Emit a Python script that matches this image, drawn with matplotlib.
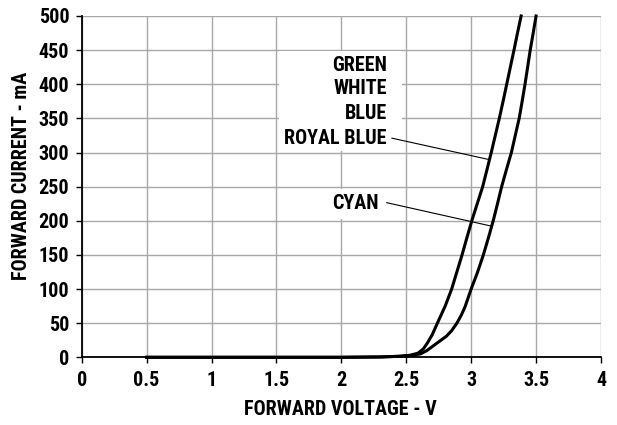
import matplotlib
matplotlib.use("Agg")
import matplotlib.pyplot as plt
from matplotlib import font_manager
from matplotlib.patches import Rectangle

# ---- data ----
v_blue = [0.5, 1.0, 1.5, 2.0, 2.3, 2.45, 2.53, 2.59, 2.63, 2.66, 2.70, 2.74, 2.80,
          2.85, 2.89, 2.93, 2.967, 3.005, 3.047, 3.089, 3.122, 3.155, 3.186, 3.217,
          3.246, 3.274, 3.302, 3.33, 3.357, 3.385]
i_blue = [0, 0, 0, 0, 0.5, 1.5, 3, 6, 12, 20, 33, 50, 75,
          100, 125, 150, 175, 200, 225, 250, 275, 300, 325, 350,
          375, 400, 425, 450, 475, 500]

v_cyan = [0.5, 1.0, 1.5, 2.0, 2.3, 2.45, 2.55, 2.61, 2.66, 2.71, 2.76, 2.81, 2.85,
          2.89, 2.925, 2.955, 3.0, 3.05, 3.094, 3.133, 3.17, 3.203, 3.235, 3.272, 3.31,
          3.34, 3.37, 3.393, 3.415, 3.435, 3.455, 3.478, 3.5]
i_cyan = [0, 0, 0, 0, 0.5, 1.5, 3, 5, 10, 17, 24, 31, 39,
          50, 62, 75, 100, 125, 150, 175, 200, 225, 250, 275, 300,
          325, 350, 375, 400, 425, 450, 475, 500]

x_ticks = [0, 0.5, 1, 1.5, 2, 2.5, 3, 3.5, 4]
x_tick_labels = ["0", "0.5", "1", "1.5", "2", "2.5", "3", "3.5", "4"]
y_ticks = [0, 50, 100, 150, 200, 250, 300, 350, 400, 450, 500]

group_labels = ["GREEN", "WHITE", "BLUE", "ROYAL BLUE"]
group_label_y = [428, 394, 357, 321]
cyan_label = "CYAN"

x_label = "FORWARD VOLTAGE - V"
y_label = "FORWARD CURRENT - mA"

# ---- font ----
available = {f.name for f in font_manager.fontManager.ttflist}
family = "DejaVu Sans"
stretch = "normal"
for cand in ["Roboto Condensed", "Liberation Sans Narrow", "Open Sans Condensed", "DejaVu Sans Condensed"]:
    if cand in available:
        family = cand
        break
else:
    stretch = "condensed"
plt.rcParams["font.family"] = [family, "DejaVu Sans"]
plt.rcParams["font.weight"] = "bold"
plt.rcParams["font.stretch"] = stretch

fs = 14.5

fig = plt.figure(figsize=(6.17, 4.25), dpi=100)
ax = fig.add_axes([0.1324, 0.1593, 0.974 - 0.1324, 0.9624 - 0.1593])

ax.set_xlim(0, 4)
ax.set_ylim(0, 500)
ax.set_xticks(x_ticks)
ax.set_xticklabels(x_tick_labels, fontsize=fs, fontweight="bold")
ax.set_yticks(y_ticks)
ax.set_yticklabels([str(t) for t in y_ticks], fontsize=fs, fontweight="bold")
ax.tick_params(axis="y", direction="out", length=4, width=1, color="black", pad=5)
ax.tick_params(axis="x", direction="out", length=4, width=1, color="black", pad=6)

ax.grid(True, color="#a8a8a8", linewidth=1.0, zorder=0)
ax.set_axisbelow(True)
for s in ["top", "right"]:
    ax.spines[s].set_visible(False)
for s in ["left", "bottom"]:
    ax.spines[s].set_linewidth(1.3)
    ax.spines[s].set_color("black")
    ax.spines[s].set_zorder(4)

# white boxes behind labels (covering grid)
ax.add_patch(Rectangle((1.52, 302), 0.95, 146, facecolor="white", edgecolor="none", zorder=1))
ax.add_patch(Rectangle((1.62, 202), 0.72, 45, facecolor="white", edgecolor="none", zorder=1))

ax.plot(v_blue, i_blue, color="black", linewidth=2.2, zorder=3, clip_on=False,
        solid_joinstyle="round")
ax.plot(v_cyan, i_cyan, color="black", linewidth=2.2, zorder=3, clip_on=False,
        solid_joinstyle="round")

for lab, yy in zip(group_labels, group_label_y):
    ax.text(2.35, yy, lab, ha="right", va="center", fontsize=fs, fontweight="bold", zorder=2)
ax.text(2.29, 225, cyan_label, ha="right", va="center", fontsize=fs, fontweight="bold", zorder=2)

ax.plot([2.39, 3.13], [321, 290], color="black", linewidth=0.8, zorder=2)
ax.plot([2.35, 3.16], [226.5, 192], color="black", linewidth=0.8, zorder=2)

ax.set_xlabel(x_label, fontsize=fs, fontweight="bold", va="center")
ax.set_ylabel(y_label, fontsize=fs, fontweight="bold", va="center")
ax.xaxis.set_label_coords(0.498, -0.154)
ax.yaxis.set_label_coords(-0.115, 0.531)

fig.savefig("out.png", dpi=100)
print(family, stretch)
